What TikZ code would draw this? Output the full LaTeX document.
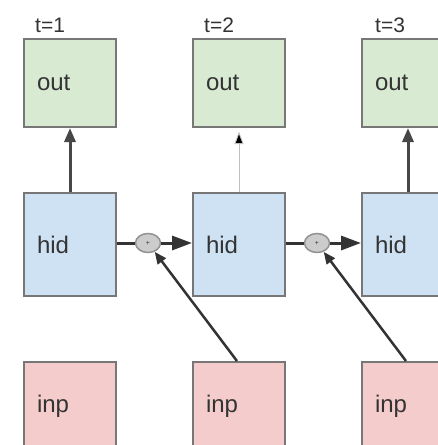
\documentclass[tikz,border=0pt]{standalone}
\usepackage{fontspec}
\setmainfont{Liberation Sans}
\usetikzlibrary{shapes.geometric,arrows.meta}
\definecolor{outfill}{HTML}{D9EAD3}
\definecolor{hidfill}{HTML}{CFE2F3}
\definecolor{inpfill}{HTML}{F4CCCC}
\definecolor{edgegray}{HTML}{777777}
\definecolor{txt}{HTML}{333333}
\definecolor{plusfill}{HTML}{CCCCCC}
\tikzset{
  x=1pt, y=1pt,
  cell/.style={draw=edgegray, line width=2pt, minimum width=92pt, text width=66pt,
    inner xsep=13pt, align=left, font=\fontsize{24}{26}\selectfont, text=txt},
  outbox/.style={cell, fill=outfill, minimum height=88pt},
  hidbox/.style={cell, fill=hidfill, minimum height=103pt},
  inpbox/.style={cell, fill=inpfill, minimum height=88pt},
  tlabel/.style={anchor=base west, inner sep=0pt, font=\fontsize{21}{23}\selectfont, text=txt},
  plus/.style={ellipse, draw=edgegray!80, line width=1.5pt, fill=plusfill, minimum width=25pt,
    minimum height=19pt, inner sep=0pt, font=\fontsize{7}{7}\selectfont, text=txt},
  upar/.style={line width=3pt, draw=edgegray!60!black, -{Triangle[length=14pt,width=11pt]}},
  faintar/.style={line width=0.8pt, draw=gray!50, -{Triangle[length=12pt,width=9pt,fill=black]}, shorten >=4pt},
  recur/.style={line width=3pt, draw=black!80},
  recurtip/.style={line width=3pt, draw=black!80, -{Triangle[length=20pt,width=14pt]}},
  inar/.style={line width=2.5pt, draw=black!80, -{Triangle[length=12pt,width=10pt]}}
}
\begin{document}
\begin{tikzpicture}
\useasboundingbox (0,0) rectangle (438,-445);
\fill[white] (0,0) rectangle (438,-445);
\begin{scope}
\clip (0,0) rectangle (438,-445);
% columns
\node[outbox] (o1) at (70,-83) {out};
\node[outbox] (o2) at (239,-83) {out};
\node[outbox] (o3) at (408,-83) {out};
\node[hidbox] (h1) at (70,-244.5) {hid};
\node[hidbox] (h2) at (239,-244.5) {hid};
\node[hidbox] (h3) at (408,-244.5) {hid};
\node[inpbox] (i1) at (70,-406) {inp};
\node[inpbox] (i2) at (239,-406) {inp};
\node[inpbox] (i3) at (408,-406) {inp};
% time labels
\node[tlabel] (t1) at (35,-32) {t=1};
\node[tlabel] (t2) at (204,-32) {t=2};
\node[tlabel] (t3) at (375,-32) {t=3};
% adders
\node[plus] (p1) at (148,-243) {+};
\node[plus] (p2) at (317,-243) {+};
% vertical arrows
\draw[upar] (h1.north) -- (o1.south);
\draw[faintar] (h2.north) -- (o2.south);
\draw[upar] (h3.north) -- (o3.south);
% recurrence
\draw[recur] (h1.east |- p1) -- (p1);
\draw[recurtip] (p1) -- (h2.west |- p1);
\draw[recur] (h2.east |- p2) -- (p2);
\draw[recurtip] (p2) -- (h3.west |- p2);
% inputs
\draw[inar] ([xshift=-2pt]i2.north) -- (p1);
\draw[inar] ([xshift=-2pt]i3.north) -- (p2);
\end{scope}
\end{tikzpicture}
\end{document}
